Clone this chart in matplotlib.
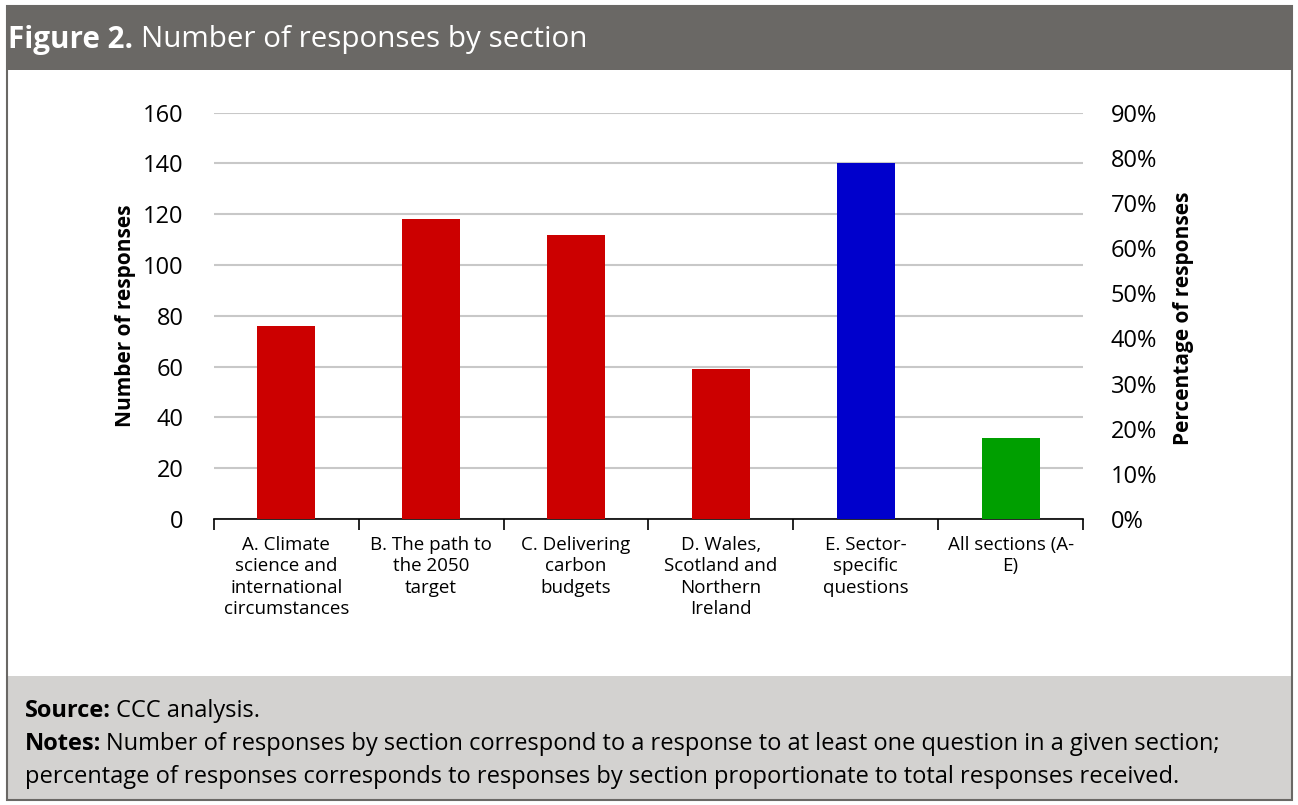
import matplotlib
matplotlib.use("Agg")
import matplotlib.pyplot as plt
from matplotlib.patches import Rectangle
from matplotlib.ticker import FuncFormatter

plt.rcParams["font.family"] = ["Open Sans", "DejaVu Sans"]

categories = [
    "A. Climate\nscience and\ninternational\ncircumstances",
    "B. The path to\nthe 2050\ntarget",
    "C. Delivering\ncarbon\nbudgets",
    "D. Wales,\nScotland and\nNorthern\nIreland",
    "E. Sector-\nspecific\nquestions",
    "All sections (A-\nE)",
]
responses = [76, 118, 112, 59, 140, 32]
bar_colors = ["#cc0000", "#cc0000", "#cc0000", "#cc0000", "#0000cc", "#009f00"]
pct_ticks = [0, 10, 20, 30, 40, 50, 60, 70, 80, 90]

title_bold = "Figure 2."
title_text = "Number of responses by section"
source_text = "CCC analysis."
notes_1 = "Number of responses by section correspond to a response to at least one question in a given section;"
notes_2 = "percentage of responses corresponds to responses by section proportionate to total responses received."

W, H = 1298, 805
fig = plt.figure(figsize=(W / 100, H / 100), dpi=100)


def fx(px):
    return px / W


def fy(py):
    return 1 - py / H


# frame, header band and footer band
fig.patches.append(Rectangle((fx(7), fy(70)), fx(1292) - fx(7), 64 / H, transform=fig.transFigure,
                             facecolor="#6a6865", edgecolor="none", zorder=0))
fig.patches.append(Rectangle((fx(7), fy(800)), fx(1292) - fx(7), 124 / H, transform=fig.transFigure,
                             facecolor="#d3d2d0", edgecolor="none", zorder=0))
fig.patches.append(Rectangle((fx(7), fy(800)), fx(1292) - fx(7), 794 / H, transform=fig.transFigure,
                             facecolor="none", edgecolor="#6a6865", lw=1.5, zorder=5))

ax = fig.add_axes([fx(214), fy(519), fx(1083) - fx(214), fy(112.7) - fy(519)])
x = list(range(len(categories)))
ax.bar(x, responses, width=0.4, color=bar_colors, zorder=3)
ax.set_xlim(-0.5, len(categories) - 0.5)
ax.set_ylim(0, 160)
ax.set_yticks(range(0, 161, 20))
ax.yaxis.grid(True, color="#c8c8c8", lw=1.5, zorder=0)
ax.set_axisbelow(True)
for s in ["left", "right", "top"]:
    ax.spines[s].set_visible(False)
ax.spines["bottom"].set_linewidth(1.2)
ax.tick_params(axis="y", length=0, labelsize=17, pad=22)
ax.set_xticks([i - 0.5 for i in range(len(categories) + 1)])
ax.set_xticklabels([])
ax.tick_params(axis="x", length=8, width=1.2, direction="out")
for i, lab in enumerate(categories):
    ax.text(i, -6.5, lab, ha="center", va="top", fontsize=13.5, linespacing=1.25, clip_on=False)

ax2 = ax.twinx()
ax2.set_ylim(0, 0.9)
ax2.set_yticks([p / 100 for p in pct_ticks])
ax2.yaxis.set_major_formatter(FuncFormatter(lambda v, p: f"{v * 100:.0f}%"))
for s in ax2.spines.values():
    s.set_visible(False)
ax2.tick_params(axis="y", length=0, labelsize=17, pad=20)

fig.text(fx(125), fy(316), "Number of responses", rotation=90, fontsize=15,
         fontweight="bold", ha="center", va="center")
fig.text(fx(1183), fy(318), "Percentage of responses", rotation=90, fontsize=15,
         fontweight="bold", ha="center", va="center")

fig.canvas.draw()
r = fig.canvas.get_renderer()


def fit(t, width):
    w = t.get_window_extent(r).width
    t.set_fontsize(t.get_fontsize() * width / w)


def after(t, gap):
    return t.get_window_extent(r).x1 / W + fx(gap)


# title: bold prefix then regular text
t1 = fig.text(fx(8), fy(40), title_bold, color="white", fontsize=17,
              fontweight="bold", va="center", ha="left")
fit(t1, 125)
t2 = fig.text(after(t1, 8), fy(40), title_text, color="white",
              fontsize=t1.get_fontsize(), va="center", ha="left")

s1 = fig.text(fx(25), fy(711), "Source:", fontsize=16, fontweight="bold", va="center")
n1 = fig.text(fx(25), fy(744), "Notes:", fontsize=16, fontweight="bold", va="center")
n2 = fig.text(after(n1, 5), fy(744), notes_1, fontsize=16, va="center")
# scale the footer so the first notes line ends where the reference's does
scale = (1220 - 25) / (n2.get_window_extent(r).x1 - n1.get_window_extent(r).x0)
for t in (s1, n1, n2):
    t.set_fontsize(t.get_fontsize() * scale)
n2.set_x(after(n1, 5))
fig.text(after(s1, 5), fy(711), source_text, fontsize=n2.get_fontsize(), va="center")
fig.text(fx(25), fy(777), notes_2, fontsize=n2.get_fontsize(), va="center")

fig.savefig("out.png", dpi=100)
